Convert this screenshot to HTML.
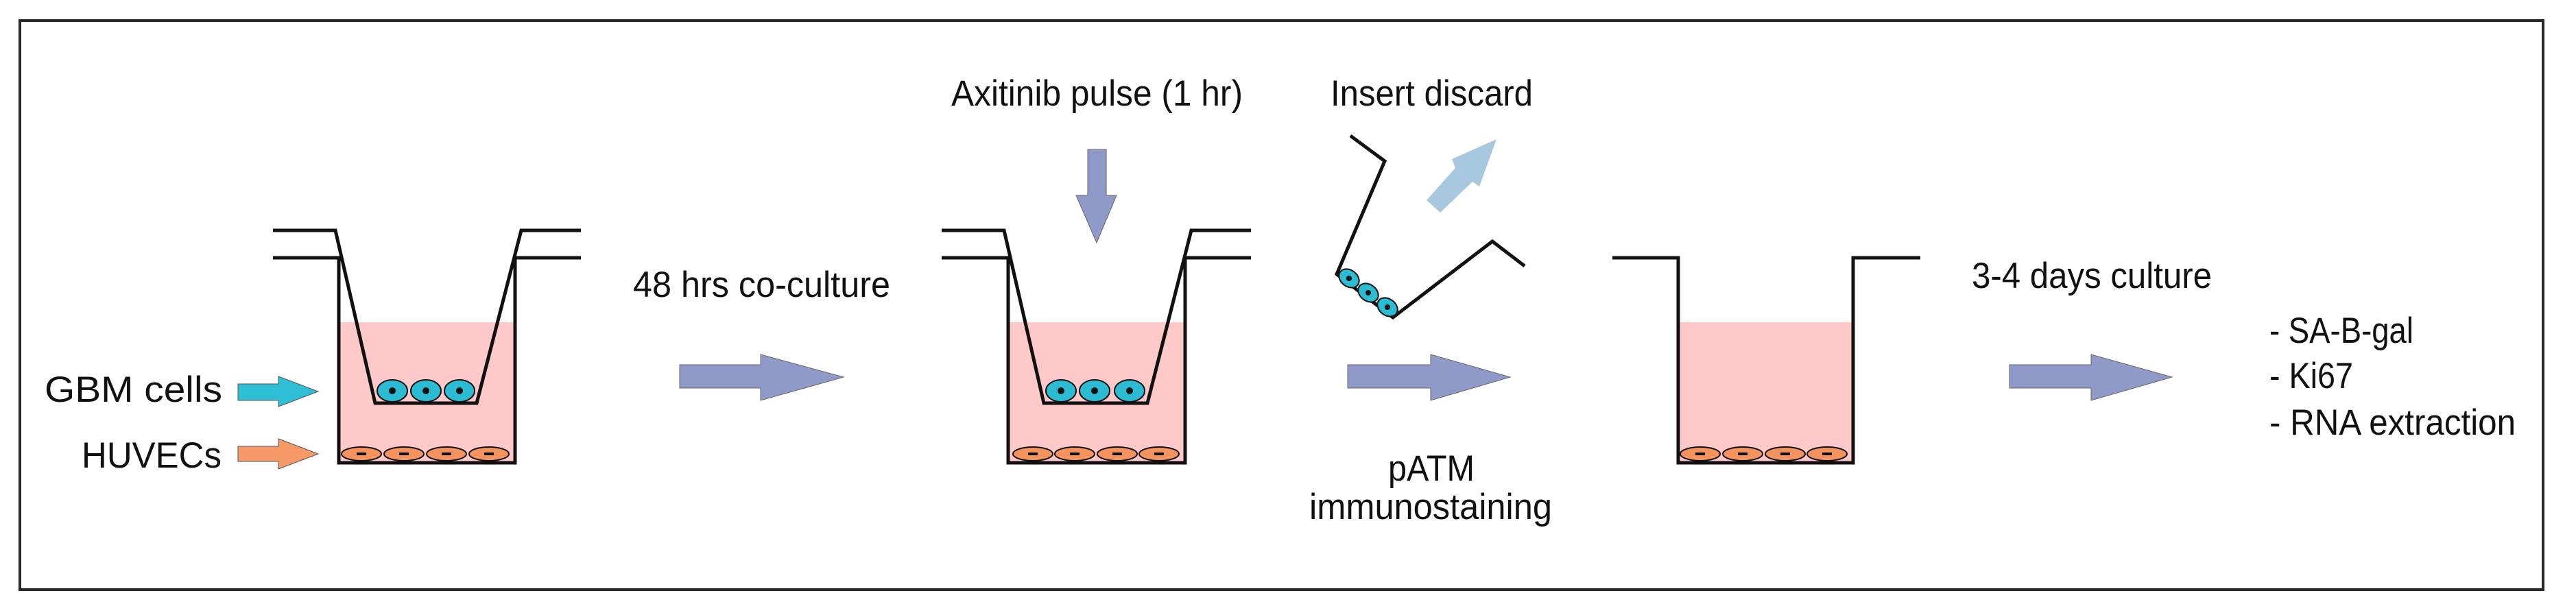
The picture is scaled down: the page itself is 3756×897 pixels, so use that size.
<!DOCTYPE html>
<html><head><meta charset="utf-8"><style>
html,body{margin:0;padding:0;background:#fff;}
svg{display:block}
text{font-family:"Liberation Sans Narrow","Liberation Sans",sans-serif;fill:#111;font-size:53px}
</style></head><body>
<svg width="3756" height="897" viewBox="0 0 3756 897" xmlns="http://www.w3.org/2000/svg">
<rect x="29" y="30" width="3679" height="830" fill="#fff" stroke="#2a2a2a" stroke-width="4"/>

<!-- Well 1 -->
<rect x="494" y="470" width="257" height="205" fill="#ffc9c9"/>
<g fill="none" stroke="#111" stroke-width="5">
<path d="M398 336H489L547 588H695L760 336H847"/>
<path d="M398 376H494V675H751V376"/>
<path d="M751 376H847"/>
</g>
<g stroke="#111" stroke-width="2">
<ellipse cx="572" cy="570" rx="22" ry="16" fill="#2bbcd4"/><ellipse cx="621" cy="570" rx="22" ry="16" fill="#2bbcd4"/><ellipse cx="670" cy="570" rx="22" ry="16" fill="#2bbcd4"/>
<ellipse cx="527" cy="662" rx="29" ry="10" fill="#f4935e"/><ellipse cx="589" cy="662" rx="29" ry="10" fill="#f4935e"/><ellipse cx="651" cy="662" rx="29" ry="10" fill="#f4935e"/><ellipse cx="713" cy="662" rx="29" ry="10" fill="#f4935e"/>
</g>
<g fill="#111"><circle cx="572" cy="570" r="5"/><circle cx="621" cy="570" r="5"/><circle cx="670" cy="570" r="5"/>
<rect x="520" y="660" width="14" height="4"/><rect x="582" y="660" width="14" height="4"/><rect x="644" y="660" width="14" height="4"/><rect x="706" y="660" width="14" height="4"/></g>

<text x="65" y="586" textLength="259" lengthAdjust="spacingAndGlyphs">GBM cells</text>
<text x="119" y="682" textLength="204" lengthAdjust="spacingAndGlyphs">HUVECs</text>
<polygon points="347,560 406,560 406,549 464,571 406,593 406,584 347,584" fill="#2ebed6" stroke="#555" stroke-width="1"/>
<polygon points="347,651 406,651 406,640 464,662 406,684 406,673 347,673" fill="#f79a67" stroke="#555" stroke-width="1"/>

<text x="923" y="433" textLength="375" lengthAdjust="spacingAndGlyphs">48 hrs co-culture</text>
<polygon points="991,532 1109,532 1109,517 1230,550 1109,584 1109,566 991,566" fill="#8f9ac8" stroke="#666" stroke-width="1"/>

<!-- Well 2 -->
<rect x="1470" y="470" width="258" height="205" fill="#ffc9c9"/>
<g fill="none" stroke="#111" stroke-width="5">
<path d="M1373 336H1464L1522 588H1673L1737 336H1824"/>
<path d="M1373 376H1470V675H1728V376H1824"/>
</g>
<g stroke="#111" stroke-width="2">
<ellipse cx="1547" cy="570" rx="22" ry="16" fill="#2bbcd4"/><ellipse cx="1596" cy="570" rx="22" ry="16" fill="#2bbcd4"/><ellipse cx="1647" cy="570" rx="22" ry="16" fill="#2bbcd4"/>
<ellipse cx="1506" cy="662" rx="29" ry="10" fill="#f4935e"/><ellipse cx="1567" cy="662" rx="29" ry="10" fill="#f4935e"/><ellipse cx="1629" cy="662" rx="29" ry="10" fill="#f4935e"/><ellipse cx="1690" cy="662" rx="29" ry="10" fill="#f4935e"/>
</g>
<g fill="#111"><circle cx="1547" cy="570" r="5"/><circle cx="1596" cy="570" r="5"/><circle cx="1647" cy="570" r="5"/>
<rect x="1499" y="660" width="14" height="4"/><rect x="1560" y="660" width="14" height="4"/><rect x="1622" y="660" width="14" height="4"/><rect x="1683" y="660" width="14" height="4"/></g>
<polygon points="1586,218 1613,218 1613,285 1628,285 1599,354 1569,285 1586,285" fill="#8f9ac8" stroke="#666" stroke-width="1"/>
<text x="1387" y="154" textLength="425" lengthAdjust="spacingAndGlyphs">Axitinib pulse (1 hr)</text>
<text x="1940" y="154" textLength="295" lengthAdjust="spacingAndGlyphs">Insert discard</text>

<!-- Discarded insert -->
<g fill="none" stroke="#111" stroke-width="5">
<path d="M1969 198L2019 235L1949 400L2031 463L2176 352L2223 388"/>
</g>
<g stroke="#111" stroke-width="2" fill="#2bbcd4">
<ellipse cx="1967" cy="406" rx="16" ry="12" transform="rotate(37 1967 406)"/>
<ellipse cx="1995" cy="427" rx="16" ry="12" transform="rotate(37 1995 427)"/>
<ellipse cx="2023" cy="448" rx="16" ry="12" transform="rotate(37 2023 448)"/>
</g>
<g fill="#111"><circle cx="1967" cy="406" r="4"/><circle cx="1995" cy="427" r="4"/><circle cx="2023" cy="448" r="4"/></g>
<polygon points="2080,292 2122,245 2117,232 2182,203 2157,272 2147,265 2100,310" fill="#a8c8e0"/>

<polygon points="1965,532 2086,532 2086,517 2202,550 2086,584 2086,566 1965,566" fill="#8f9ac8" stroke="#666" stroke-width="1"/>
<text x="2024" y="701" textLength="126" lengthAdjust="spacingAndGlyphs">pATM</text>
<text x="1909" y="757" textLength="354" lengthAdjust="spacingAndGlyphs">immunostaining</text>

<!-- Well 3 -->
<rect x="2447" y="470" width="255" height="205" fill="#ffc9c9"/>
<path d="M2351 376H2447V675H2702V376H2800" fill="none" stroke="#111" stroke-width="5"/>
<g stroke="#111" stroke-width="2">
<ellipse cx="2479" cy="662" rx="29" ry="10" fill="#f4935e"/><ellipse cx="2541" cy="662" rx="29" ry="10" fill="#f4935e"/><ellipse cx="2603" cy="662" rx="29" ry="10" fill="#f4935e"/><ellipse cx="2664" cy="662" rx="29" ry="10" fill="#f4935e"/>
</g>
<g fill="#111"><rect x="2472" y="660" width="14" height="4"/><rect x="2534" y="660" width="14" height="4"/><rect x="2596" y="660" width="14" height="4"/><rect x="2657" y="660" width="14" height="4"/></g>

<text x="2875" y="420" textLength="350" lengthAdjust="spacingAndGlyphs">3-4 days culture</text>
<polygon points="2930,532 3049,532 3049,517 3167,550 3049,584 3049,566 2930,566" fill="#8f9ac8" stroke="#666" stroke-width="1"/>
<text x="3309" y="500" textLength="210" lengthAdjust="spacingAndGlyphs">- SA-B-gal</text>
<text x="3309" y="566" textLength="122" lengthAdjust="spacingAndGlyphs">- Ki67</text>
<text x="3309" y="634" textLength="359" lengthAdjust="spacingAndGlyphs">- RNA extraction</text>
</svg>
</body></html>
